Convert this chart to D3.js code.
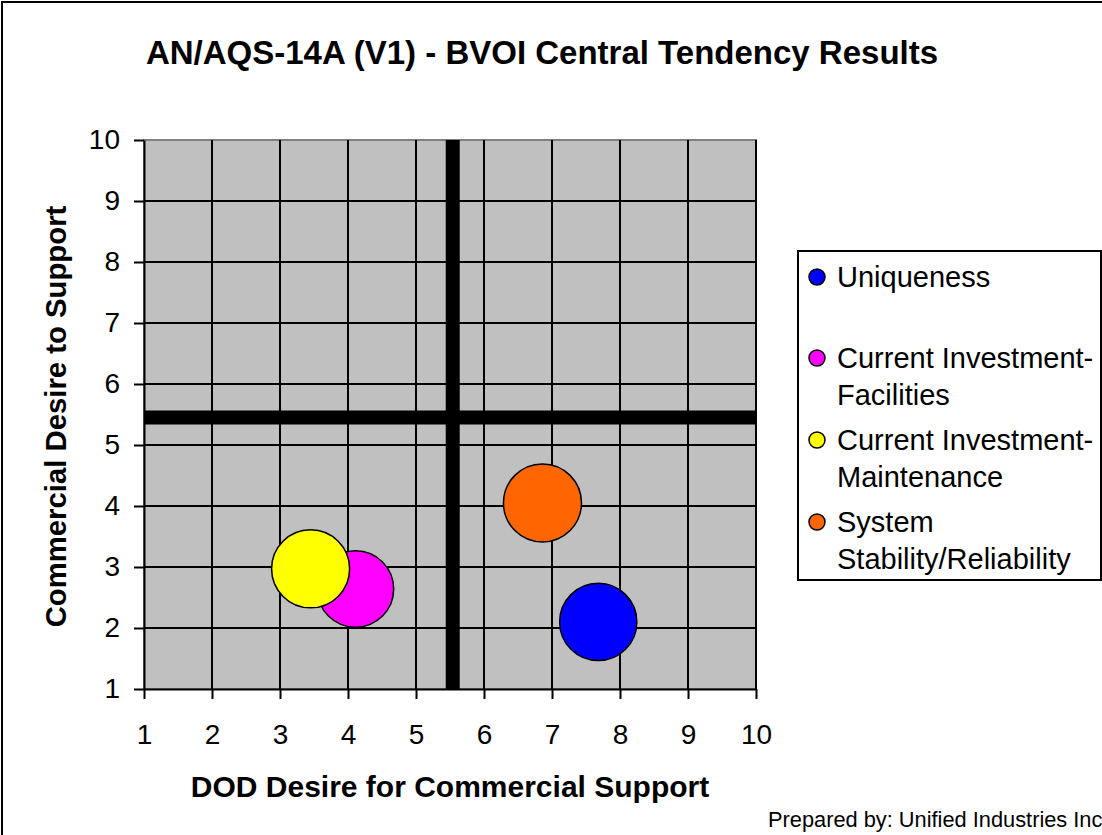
<!DOCTYPE html>
<html>
<head>
<meta charset="utf-8">
<script src="https://cdn.jsdelivr.net/npm/d3@7"></script>
<style>
  body { margin: 0; background: #fff; }
  svg { display: block; font-family: "Liberation Sans", Arial, sans-serif; }
</style>
</head>
<body>
<svg id="chart"></svg>
<script>
// bubble data
const seriesNames = ["Uniqueness", "Current Investment-Facilities", "Current Investment-Maintenance", "System Stability/Reliability"];
const legendLines = [["Uniqueness"], ["Current Investment-", "Facilities"], ["Current Investment-", "Maintenance"], ["System", "Stability/Reliability"]];
const colors = ["#0000FF", "#FF00FF", "#FFFF00", "#FF6600"];
const xValues = [7.68, 4.11, 3.45, 6.86];
const yValues = [2.10, 2.64, 2.97, 4.05];
const sizes = [4.9, 4.8, 5.0, 5.0];
// quadrant divider lines
const xDivider = 5.54;
const yDivider = 5.45;
const ticks = [1, 2, 3, 4, 5, 6, 7, 8, 9, 10];

const W = 1102, H = 835;
const plot = { left: 144, right: 756, top: 140, bottom: 689 };

const svg = d3.select("#chart").attr("width", W).attr("height", H);

// outer frame (image is cropped on the right and bottom)
svg.append("path")
    .attr("d", `M2,${H + 5} L2,2 L${W + 5},2`)
    .attr("fill", "none")
    .attr("stroke", "#000")
    .attr("stroke-width", 2);

const x = d3.scaleLinear().domain([1, 10]).range([plot.left, plot.right]);
const y = d3.scaleLinear().domain([1, 10]).range([plot.bottom, plot.top]);
const r = d3.scaleSqrt().domain([0, 5]).range([0, 39]);

// plot background
svg.append("rect")
    .attr("x", plot.left).attr("y", plot.top)
    .attr("width", plot.right - plot.left).attr("height", plot.bottom - plot.top)
    .attr("fill", "#C0C0C0")
    .attr("stroke", "#808080")
    .attr("stroke-width", 2);

// gridlines
svg.append("g").selectAll("line")
    .data(ticks.filter(t => t > 1 && t < 10))
    .join("line")
    .attr("x1", plot.left).attr("x2", plot.right)
    .attr("y1", d => y(d)).attr("y2", d => y(d))
    .attr("stroke", "#000").attr("stroke-width", 2);

svg.append("g").selectAll("line")
    .data(ticks.filter(t => t > 1))
    .join("line")
    .attr("x1", d => x(d)).attr("x2", d => x(d))
    .attr("y1", plot.top).attr("y2", plot.bottom)
    .attr("stroke", "#000").attr("stroke-width", 2);

// axes
const xAxis = svg.append("g")
    .attr("transform", `translate(0,${plot.bottom})`)
    .call(d3.axisBottom(x).tickValues(ticks).tickSizeInner(10).tickSizeOuter(0));
const yAxis = svg.append("g")
    .attr("transform", `translate(${plot.left},0)`)
    .call(d3.axisLeft(y).tickValues(ticks).tickSizeInner(10).tickSizeOuter(0).tickPadding(14));

[xAxis, yAxis].forEach(a => {
    a.select(".domain").attr("stroke", "#000").attr("stroke-width", 2);
    a.selectAll(".tick line").attr("stroke", "#000").attr("stroke-width", 2);
    a.selectAll(".tick text")
        .attr("fill", "#000")
        .attr("font-size", "28px")
        .attr("font-family", "Liberation Sans, Arial, sans-serif");
});
xAxis.selectAll(".tick text").attr("y", 55).attr("dy", 0);

// thick divider lines
svg.append("line")
    .attr("x1", x(xDivider)).attr("x2", x(xDivider))
    .attr("y1", plot.top).attr("y2", plot.bottom)
    .attr("stroke", "#000").attr("stroke-width", 14);
svg.append("line")
    .attr("x1", plot.left).attr("x2", plot.right)
    .attr("y1", y(yDivider)).attr("y2", y(yDivider))
    .attr("stroke", "#000").attr("stroke-width", 14);

// bubbles
svg.append("g").selectAll("circle")
    .data(seriesNames.map((name, i) => ({ name, x: xValues[i], y: yValues[i], size: sizes[i], color: colors[i] })))
    .join("circle")
    .attr("cx", d => x(d.x))
    .attr("cy", d => y(d.y))
    .attr("r", d => r(d.size))
    .attr("fill", d => d.color)
    .attr("stroke", "#000")
    .attr("stroke-width", 1.5);

// title
svg.append("text")
    .attr("x", 542).attr("y", 64)
    .attr("text-anchor", "middle")
    .attr("font-size", "33px")
    .attr("font-weight", "bold")
    .text("AN/AQS-14A (V1) - BVOI Central Tendency Results");

// axis titles
svg.append("text")
    .attr("x", (plot.left + plot.right) / 2).attr("y", 797)
    .attr("text-anchor", "middle")
    .attr("font-size", "30px")
    .attr("font-weight", "bold")
    .text("DOD Desire for Commercial Support");

svg.append("text")
    .attr("transform", `translate(66,${(plot.top + plot.bottom) / 2 + 2}) rotate(-90)`)
    .attr("text-anchor", "middle")
    .attr("font-size", "29.3px")
    .attr("font-weight", "bold")
    .text("Commercial Desire to Support");

// --- Legend ---
const legend = svg.append("g");
legend.append("rect")
    .attr("x", 798).attr("y", 251)
    .attr("width", 303).attr("height", 329)
    .attr("fill", "#fff")
    .attr("stroke", "#000")
    .attr("stroke-width", 2);

const legendY = [277, 358, 440, 522];
legendLines.forEach((lines, i) => {
    const row = legend.append("g").attr("transform", `translate(817,${legendY[i]})`);
    row.append("circle")
        .attr("r", 8)
        .attr("fill", colors[i])
        .attr("stroke", "#000")
        .attr("stroke-width", 1.5);
    lines.forEach((line, j) => {
        row.append("text")
            .attr("x", 20)
            .attr("y", 10 + j * 37)
            .attr("font-size", "29px")
            .text(line);
    });
});

// footnote
svg.append("text")
    .attr("x", 768).attr("y", 827)
    .attr("font-size", "21.8px")
    .text("Prepared by: Unified Industries Inc.");
</script>
</body>
</html>
